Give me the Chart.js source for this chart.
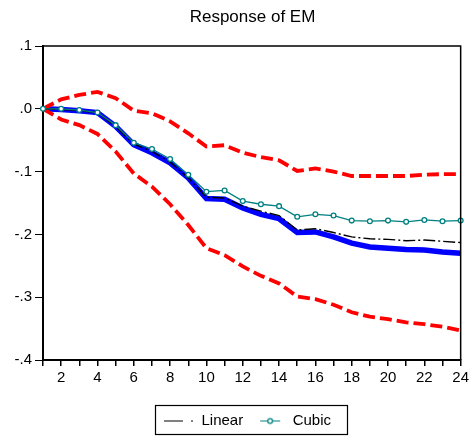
<!DOCTYPE html>
<html>
<head>
<meta charset="utf-8">
<title>Response of EM</title>
<script src="https://cdn.jsdelivr.net/npm/chart.js@4.4.1/dist/chart.umd.min.js"></script>
<style>
  html, body { margin: 0; padding: 0; background: #fff; }
  #wrap { width: 472px; height: 436px; position: relative; }
</style>
</head>
<body>
<div id="wrap"><canvas id="irf"></canvas></div>
<script>
// Horizon (periods after the shock)
const periods = ['1', '2', '3', '4', '5', '6', '7', '8', '9', '10', '11', '12',
                 '13', '14', '15', '16', '17', '18', '19', '20', '21', '22', '23', '24'];

// Impulse response and its confidence band
const response = [0, -0.001, -0.003, -0.006, -0.028, -0.057, -0.070, -0.086, -0.110, -0.143, -0.144, -0.158,
                  -0.168, -0.175, -0.197, -0.196, -0.204, -0.214, -0.220, -0.222, -0.224, -0.225, -0.228, -0.230];
const upperBand = [0, 0.015, 0.022, 0.027, 0.017, -0.003, -0.007, -0.020, -0.039, -0.060, -0.058, -0.070,
                   -0.077, -0.082, -0.099, -0.095, -0.100, -0.107, -0.107, -0.107, -0.107, -0.105, -0.104, -0.104];
const lowerBand = [0, -0.017, -0.026, -0.040, -0.068, -0.103, -0.124, -0.152, -0.185, -0.222, -0.233, -0.251,
                   -0.266, -0.278, -0.299, -0.303, -0.312, -0.324, -0.331, -0.335, -0.340, -0.343, -0.347, -0.353];

// Alternative specifications
const linear = [0, -0.001, -0.003, -0.006, -0.028, -0.056, -0.068, -0.085, -0.110, -0.141, -0.142, -0.155,
                -0.163, -0.170, -0.193, -0.191, -0.197, -0.204, -0.207, -0.208, -0.210, -0.209, -0.211, -0.213];
const cubic = [0, 0.000, -0.002, -0.006, -0.026, -0.054, -0.064, -0.080, -0.105, -0.132, -0.130, -0.147,
               -0.152, -0.155, -0.172, -0.168, -0.170, -0.178, -0.179, -0.178, -0.180, -0.177, -0.179, -0.178];

// Y axis ticks
const yTickValues = [0.1, 0, -0.1, -0.2, -0.3, -0.4];
const yTickLabels = ['.1', '.0', '-.1', '-.2', '-.3', '-.4'];

const FONT = "'Liberation Sans', Arial, sans-serif";
Chart.defaults.color = '#000';
Chart.defaults.font.family = FONT;

// little canvases used as legend symbols
function swatch(draw) {
    const c = document.createElement('canvas');
    c.width = 30; c.height = 10;
    draw(c.getContext('2d'));
    return c;
}
const legendSymbols = {
    'Linear': swatch(ctx => {
        ctx.strokeStyle = '#000'; ctx.lineWidth = 1;
        ctx.beginPath(); ctx.moveTo(0, 5.5); ctx.lineTo(19, 5.5); ctx.stroke();
        ctx.beginPath(); ctx.moveTo(27, 5.5); ctx.lineTo(29, 5.5); ctx.stroke();
    }),
    'Cubic': swatch(ctx => {
        ctx.strokeStyle = '#008080'; ctx.lineWidth = 1;
        ctx.beginPath(); ctx.moveTo(5, 5.5); ctx.lineTo(25, 5.5); ctx.stroke();
        ctx.fillStyle = '#fff'; ctx.lineWidth = 1.3;
        ctx.beginPath(); ctx.arc(15, 5.5, 2.4, 0, Math.PI * 2); ctx.fill(); ctx.stroke();
    })
};

// title centred over the plot, legend nudged right/down under it
const nudge = { titleDx: 22, legendDx: 17, legendDy: 4 };
const nudgePlugin = {
    id: 'nudge',
    afterLayout(chart) {
        const t = chart.titleBlock;
        t.left += nudge.titleDx; t.right += nudge.titleDx;
        const lg = chart.legend;
        lg.left += nudge.legendDx; lg.right += nudge.legendDx;
        lg.top += nudge.legendDy; lg.bottom += nudge.legendDy;
    }
};

// top/right frame of the plot area and the box round the legend
const framePlugin = {
    id: 'frame',
    afterDraw(chart) {
        const { ctx, chartArea: a } = chart;
        ctx.save();
        ctx.strokeStyle = '#000';
        ctx.lineWidth = 1.5;
        ctx.beginPath();
        ctx.moveTo(a.left, a.top);
        ctx.lineTo(a.right, a.top);
        ctx.lineTo(a.right, a.bottom);
        ctx.stroke();

        const boxes = chart.legend.legendHitBoxes;
        if (boxes && boxes.length) {
            const left = Math.min(...boxes.map(b => b.left));
            const right = Math.max(...boxes.map(b => b.left + b.width));
            const mid = boxes[0].top + boxes[0].height / 2;
            ctx.lineWidth = 1.2;
            ctx.strokeRect(Math.round(left - 9) + 0.5, Math.round(mid - 16) + 0.5,
                           Math.round(right - left + 25), 29);
        }
        ctx.restore();
    }
};

new Chart(document.getElementById('irf'), {
    type: 'line',
    data: {
        labels: periods,
        datasets: [
            {
                label: 'Linear', data: linear, order: 1,
                borderColor: '#000', borderWidth: 1.4, borderDash: [12, 3, 2, 3],
                pointRadius: 0, tension: 0, fill: false
            },
            {
                label: 'Cubic', data: cubic, order: 0,
                borderColor: '#008080', borderWidth: 1.3,
                pointRadius: 2.4, pointBorderWidth: 1.3, pointBackgroundColor: '#fff',
                pointBorderColor: '#008080', tension: 0, fill: false
            },
            {
                label: 'EM', data: response, order: 3,
                borderColor: '#0000ff', borderWidth: 5.5,
                pointRadius: 0, tension: 0, fill: false
            },
            {
                label: 'Upper', data: upperBand, order: 2,
                borderColor: '#ff0000', borderWidth: 3.8, borderDash: [12, 5],
                pointRadius: 0, tension: 0, fill: false
            },
            {
                label: 'Lower', data: lowerBand, order: 2,
                borderColor: '#ff0000', borderWidth: 3.8, borderDash: [12, 5],
                pointRadius: 0, tension: 0, fill: false
            }
        ]
    },
    options: {
        responsive: true,
        maintainAspectRatio: false,
        animation: false,
        layout: { padding: { left: 0, right: 11, top: 0, bottom: 2 } },
        plugins: {
            title: {
                display: true,
                text: 'Response of EM',
                font: { size: 17, weight: 'normal', family: FONT },
                color: '#000',
                padding: { top: 7, bottom: 18.6 }
            },
            legend: {
                position: 'bottom',
                labels: {
                    usePointStyle: true,
                    pointStyleWidth: 30,
                    padding: 12,
                    font: { size: 15, family: FONT },
                    color: '#000',
                    generateLabels(chart) {
                        return Chart.defaults.plugins.legend.labels.generateLabels(chart)
                            .filter(item => legendSymbols[item.text])
                            .sort((p, q) => p.datasetIndex - q.datasetIndex)
                            .map(item => Object.assign(item, { pointStyle: legendSymbols[item.text] }));
                    }
                }
            },
            tooltip: { enabled: false }
        },
        scales: {
            x: {
                type: 'category',
                offset: false,
                border: { display: true, color: '#000', width: 2 },
                grid: { drawOnChartArea: false, drawTicks: true, tickLength: 6, tickColor: '#000', lineWidth: 1.5 },
                ticks: {
                    autoSkip: false, maxRotation: 0, padding: 3,
                    font: { size: 15, family: FONT },
                    callback: (v, i) => (i % 2 === 1 ? periods[i] : '')
                },
                afterFit(scale) { scale.height = 37; }
            },
            y: {
                min: -0.4, max: 0.1,
                border: { display: true, color: '#000', width: 2 },
                grid: { drawOnChartArea: false, drawTicks: true, tickLength: 8, tickColor: '#000', lineWidth: 1 },
                ticks: {
                    stepSize: 0.1, padding: 3,
                    font: { size: 15, family: FONT },
                    callback: v => {
                        const k = yTickValues.findIndex(t => Math.abs(t - v) < 1e-6);
                        return k >= 0 ? yTickLabels[k] : '';
                    }
                },
                afterFit(scale) { scale.width = 43; }
            }
        }
    },
    plugins: [nudgePlugin, framePlugin]
});
</script>
</body>
</html>
